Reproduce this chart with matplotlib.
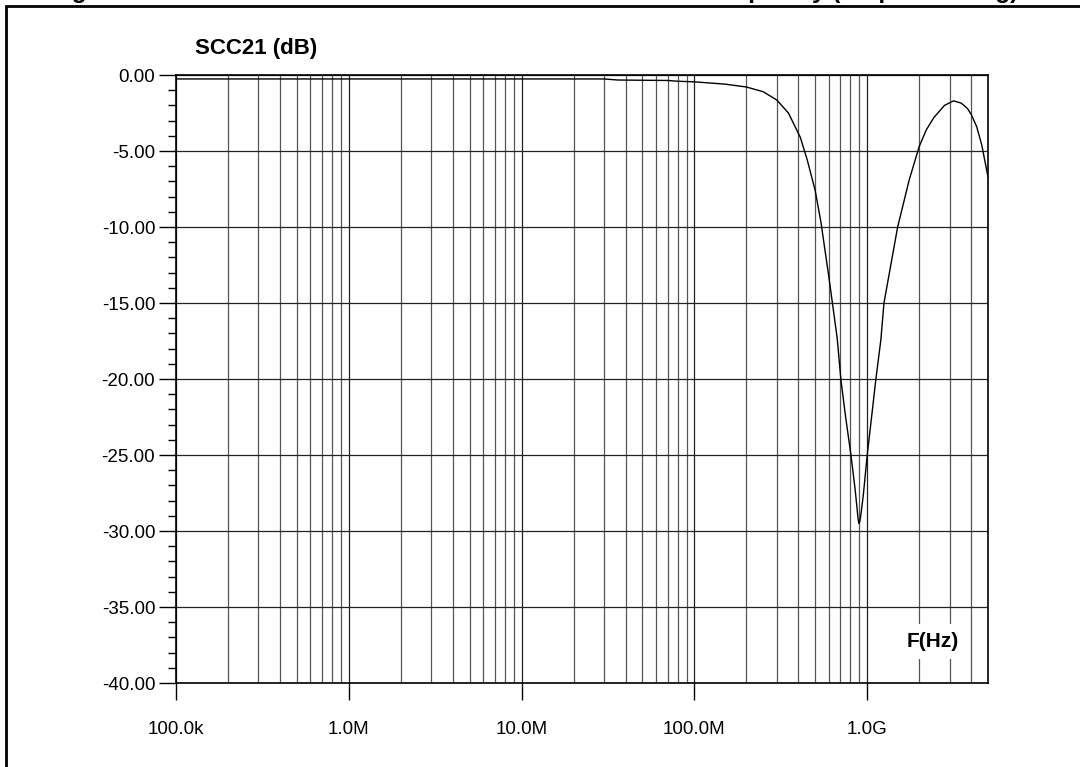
import numpy as np
import matplotlib
matplotlib.use('Agg')
import matplotlib.pyplot as plt
from matplotlib.patches import Rectangle

plt.rcParams['font.family'] = ['Liberation Sans', 'DejaVu Sans']

# frequency (Hz) and SCC21 (dB)
freq = [1e5, 3e7, 3.6e7, 7e7, 8e7, 1e8, 1.5e8, 2e8, 2.5e8, 3e8, 3.5e8, 4.1e8,
        4.5e8, 5e8, 5.4e8, 6e8, 6.7e8, 7.05e8, 7.5e8, 8.05e8, 8.5e8, 8.75e8,
        8.85e8, 8.95e8, 9.05e8, 9.2e8, 9.5e8, 1.0e9, 1.06e9, 1.12e9, 1.2e9,
        1.25e9, 1.5e9, 1.75e9, 2.0e9, 2.2e9, 2.43e9, 2.8e9, 3.16e9, 3.5e9,
        3.8e9, 4.0e9, 4.3e9, 4.6e9, 5.0e9]
scc21 = [-0.26, -0.26, -0.33, -0.36, -0.41, -0.45, -0.6, -0.79, -1.1, -1.65,
         -2.5, -4.1, -5.6, -7.6, -9.7, -13.3, -17.3, -20.1, -22.5, -25.0,
         -27.2, -28.6, -29.2, -29.5, -29.4, -28.9, -27.6, -25.0, -22.5, -20.1,
         -17.4, -15.0, -10.0, -6.9, -4.7, -3.6, -2.8, -2.0, -1.7, -1.85, -2.2,
         -2.6, -3.4, -4.6, -6.7]

xticks = [1e5, 1e6, 1e7, 1e8, 1e9]
xlabels = ['100.0k', '1.0M', '10.0M', '100.0M', '1.0G']
yticks = [0, -5, -10, -15, -20, -25, -30, -35, -40]

fig = plt.figure(figsize=(10.8, 7.67), dpi=100)
ax = fig.add_axes([176/1080, 1-683/767, 812/1080, 608/767])

ax.plot(freq, scc21, color='black', lw=1.0, zorder=3)
ax.set_xscale('log')
ax.set_xlim(1e5, 5e9)
ax.set_ylim(-40, 0)

# grid: every 1..9 multiple on x, every 5 dB on y
minor_x = [m * 10.0**e for e in range(5, 10) for m in range(2, 10) if m * 10.0**e < 5e9]
ax.set_xticks(xticks)
ax.set_xticklabels(xlabels)
ax.set_xticks(minor_x, minor=True)
ax.set_yticks(yticks)
ax.set_yticklabels(['%.2f' % abs(v) if v == 0 else '%.2f' % v for v in yticks])
ax.set_yticks(np.arange(-40, 0.1, 1), minor=True)
ax.grid(True, which='major', axis='both', color='#222222', lw=0.9)
ax.grid(True, which='minor', axis='x', color='#555555', lw=0.9)

ax.tick_params(axis='x', which='major', direction='out', length=12, width=1,
               labelsize=13.5, pad=15)
ax.tick_params(axis='x', which='minor', length=0)
ax.tick_params(axis='y', which='major', direction='out', length=12, width=1,
               labelsize=13.5, pad=3)
ax.tick_params(axis='y', which='minor', direction='out', length=6, width=1)
for s in ax.spines.values():
    s.set_linewidth(1.2)

ax.text(0.024, 1.043, 'SCC21 (dB)', transform=ax.transAxes, fontsize=16,
        fontweight='bold', va='center', ha='left')
ax.text(0.932, 0.068, 'F(Hz)', transform=ax.transAxes, fontsize=15,
        fontweight='bold', va='center', ha='center', zorder=5,
        bbox=dict(facecolor='white', edgecolor='none', pad=6))

# clipped caption at the top, only descenders visible
fig.text(1018/1080, 1.0 + 2/767, 'Figure 10. Common mode attenuation SCC21 versus the frequency (output loading)',
         fontsize=17.6, fontweight='bold', ha='right', va='baseline')

# outer frame
fig.add_artist(Rectangle((6/1080, -0.1), 1.2, 1 - 5.5/767 + 0.1, transform=fig.transFigure,
                         fill=False, edgecolor='black', lw=2))

fig.savefig('out.png', dpi=100)
